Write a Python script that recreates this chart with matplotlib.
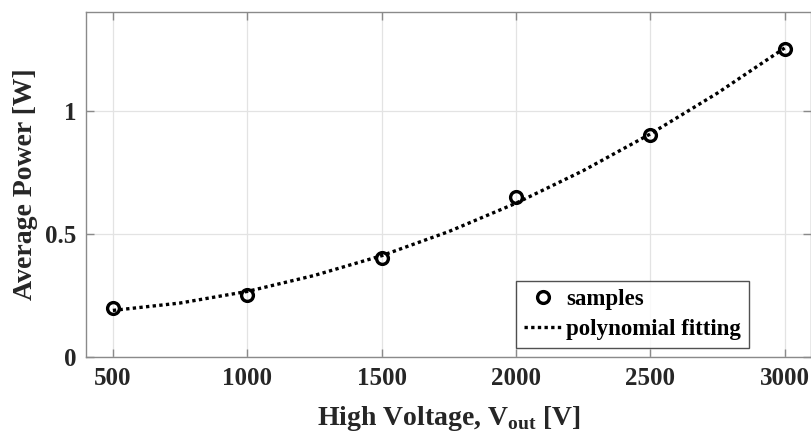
import matplotlib
matplotlib.use("Agg")
import matplotlib.pyplot as plt

# data
sample_v = [500, 1000, 1500, 2000, 2500, 3000]
sample_p = [0.20, 0.25, 0.40, 0.65, 0.90, 1.25]

fit_v = [500, 750, 1000, 1250, 1500, 1750, 2000, 2250, 2500, 2750, 3000]
fit_p = [0.189, 0.219, 0.266, 0.331, 0.411, 0.509, 0.624, 0.756, 0.905, 1.071, 1.254]

x_ticks = [500, 1000, 1500, 2000, 2500, 3000]
y_ticks = [0, 0.5, 1]
y_tick_labels = ["0", "0.5", "1"]

plt.rcParams['font.family'] = ['Liberation Serif', 'DejaVu Serif']
plt.rcParams['mathtext.fontset'] = 'custom'
plt.rcParams['mathtext.bf'] = 'Liberation Serif:bold'
plt.rcParams['mathtext.rm'] = 'Liberation Serif:bold'

fig = plt.figure(figsize=(8.11, 4.37), dpi=100)
ax = fig.add_axes([86/811, 80/437, 725.5/811, 345/437])

ax.plot(fit_v, fit_p, linestyle=(0, (1, 1)), color='black', lw=2.4,
        label='polynomial fitting', zorder=3)
ax.plot(sample_v, sample_p, linestyle='none', marker='o', ms=8.5,
        mfc='none', mec='black', mew=2.4, label='samples', zorder=4)

ax.set_xlim(400, 3100)
ax.set_ylim(0, 1.4)
ax.set_xticks(x_ticks)
ax.set_yticks(y_ticks)
ax.set_yticklabels(y_tick_labels)

ax.grid(True, color='#e3e3e3', lw=0.9)
ax.set_axisbelow(True)
for s in ax.spines.values():
    s.set_color('#8a8a8a')
    s.set_linewidth(1.0)
ax.tick_params(direction='in', length=6, width=1.0, color='#8a8a8a',
               top=True, right=True, labelsize=18, labelcolor='#262626', pad=7)
for lab in ax.get_xticklabels() + ax.get_yticklabels():
    lab.set_fontweight('bold')

ax.set_xlabel(r'High Voltage, V$_{\mathrm{out}}$ [V]', fontsize=20, fontweight='bold',
              color='#262626', labelpad=10)
ax.set_ylabel('Average Power [W]', fontsize=20, fontweight='bold',
              color='#262626', labelpad=5)

h, l = ax.get_legend_handles_labels()
leg = ax.legend([h[1], h[0]], [l[1], l[0]], loc='lower right',
                bbox_to_anchor=((749-86)/725.5, (437-348-80)/345),
                prop={'weight': 'bold', 'size': 16.5}, frameon=True, fancybox=False,
                edgecolor='#262626', handlelength=1.7, handletextpad=0.15,
                borderpad=0.35, labelspacing=0.4, borderaxespad=0)
leg.get_frame().set_linewidth(1.0)

fig.savefig('out.png', dpi=100)
